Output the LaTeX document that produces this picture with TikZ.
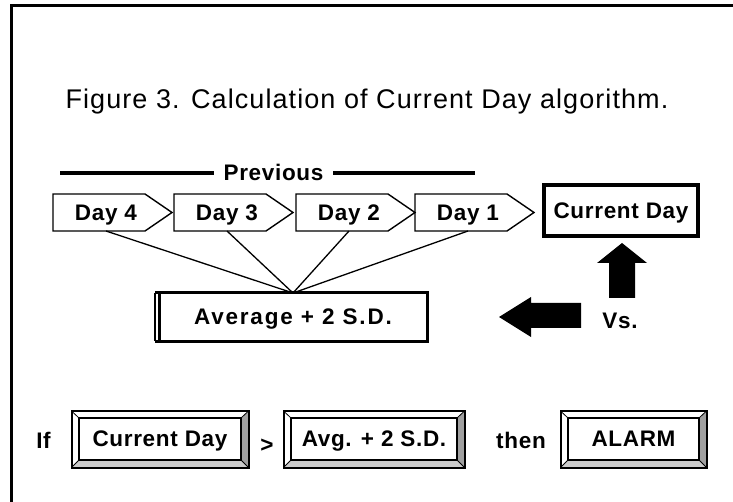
\documentclass[tikz,border=0pt]{standalone}
\usepackage{fontspec}
\setmainfont{Liberation Sans}
\newfontfamily\boldlbl{Liberation Sans}[LetterSpace=3]
\newfontfamily\widelbl{Liberation Sans}[LetterSpace=8]
\newfontfamily\titlefont{Liberation Sans}[LetterSpace=4]
\usetikzlibrary{calc}
\definecolor{bevel_dark}{HTML}{A0A0A0}
\definecolor{bevel_light}{HTML}{CCCCCC}

% outline of a day box, pointing right
\newcommand{\daybox}[1]{%
  \draw[line width=1.4] (#1.north west) -- ([xshift=-14]#1.north east) -- ([xshift=13]#1.east)
    -- ([xshift=-14]#1.south east) -- (#1.south west) -- cycle;}
% bevelled button round a node
\newcommand{\bevelbox}[1]{%
  \fill[bevel_dark] ([shift={(7.5,-7)}]#1.north east) -- ([shift={(7.5,7.5)}]#1.south east) -- (#1.south east) -- (#1.north east) -- cycle;
  \fill[bevel_light] ([shift={(-7.5,7.5)}]#1.south west) -- ([shift={(7.5,7.5)}]#1.south east) -- (#1.south east) -- (#1.south west) -- cycle;
  \draw[line width=0.8] ([shift={(-7.5,-7)}]#1.north west) -- (#1.north west) ([shift={(7.5,-7)}]#1.north east) -- (#1.north east)
    ([shift={(-7.5,7.5)}]#1.south west) -- (#1.south west) ([shift={(7.5,7.5)}]#1.south east) -- (#1.south east);
  \draw[line width=1.5] (#1.north west) rectangle (#1.south east);
  \draw[line width=2] ([shift={(-7.5,-7)}]#1.north west) rectangle ([shift={(7.5,7.5)}]#1.south east);}

\begin{document}
\begin{tikzpicture}[x=1pt,y=-1pt,
    lbl/.style={font=\boldlbl\bfseries\fontsize{22.5}{25}\selectfont,text height=15.5,text depth=0,inner sep=0,outer sep=0},
    day/.style={lbl,minimum width=106,minimum height=37},
    button/.style={lbl,minimum height=42}]
    \useasboundingbox (0,0) rectangle (733,502);
    \draw[line width=2.5] (733,5.5) -- (11.5,5.5) -- (11.5,502);
    \node[font=\titlefont\fontsize{27}{30}\selectfont,anchor=base] (title) at (367,109) {Figure 3. Calculation of Current Day algorithm.};

    % previous days
    \node[lbl,inner xsep=10] (prev) at (273.5,173) {Previous};
    \coordinate (pl) at (60,173);
    \coordinate (pr) at (475,173);
    \draw[line width=3.5] (pl) -- (prev.west) (prev.east) -- (pr);
    \node[day] (d4) at (106,212.5) {Day 4};
    \node[day] (d3) at (227,212.5) {Day 3};
    \node[day] (d2) at (349,212.5) {Day 2};
    \node[day] (d1) at (468,212.5) {Day 1};
    \daybox{d4}
    \daybox{d3}
    \daybox{d2}
    \daybox{d1}
    \node[lbl,draw,line width=4,minimum width=154,minimum height=51] (cur) at (621,210.5) {Current Day};

    \node[lbl,font=\widelbl\bfseries\fontsize{22.5}{25}\selectfont,draw,line width=3,minimum width=268,minimum height=48] (avg) at (293,317) {Average + 2 S.D.};
    \draw[line width=3] ([xshift=-4]avg.north west) -- (avg.north west) ([xshift=-4]avg.south west) -- (avg.south west);
    \draw[line width=1.2] ([xshift=-4]avg.north west) -- ([xshift=-4]avg.south west);
    \draw[line width=1.3] (d4.south) -- (avg.north);
    \draw[line width=1.3] (d3.south) -- (avg.north);
    \draw[line width=1.3] (d2.south) -- (avg.north);
    \draw[line width=1.3] (d1.south) -- (avg.north);

    % comparison
    \fill (622,243) -- (647,263) -- (635,263) -- (635,298) -- (609,298) -- (609,263) -- (597,263) -- cycle;
    \fill (499,317) -- (531,297) -- (531,303) -- (581,303) -- (581,328) -- (531,328) -- (531,337) -- cycle;
    \node[lbl] (vs) at (620,321) {Vs.};

    % rule
    \node[lbl] (if) at (43.5,440.5) {If};
    \node[button,minimum width=162] (b1) at (160,439) {Current Day};
    \node[lbl] (gt) at (267,445) {>};
    \node[button,minimum width=166] (b2) at (374,439) {Avg. + 2 S.D.};
    \node[lbl] (then) at (521,440.5) {then};
    \node[button,minimum width=131] (b3) at (633.5,439) {ALARM};
    \bevelbox{b1}
    \bevelbox{b2}
    \bevelbox{b3}
\end{tikzpicture}
\end{document}
